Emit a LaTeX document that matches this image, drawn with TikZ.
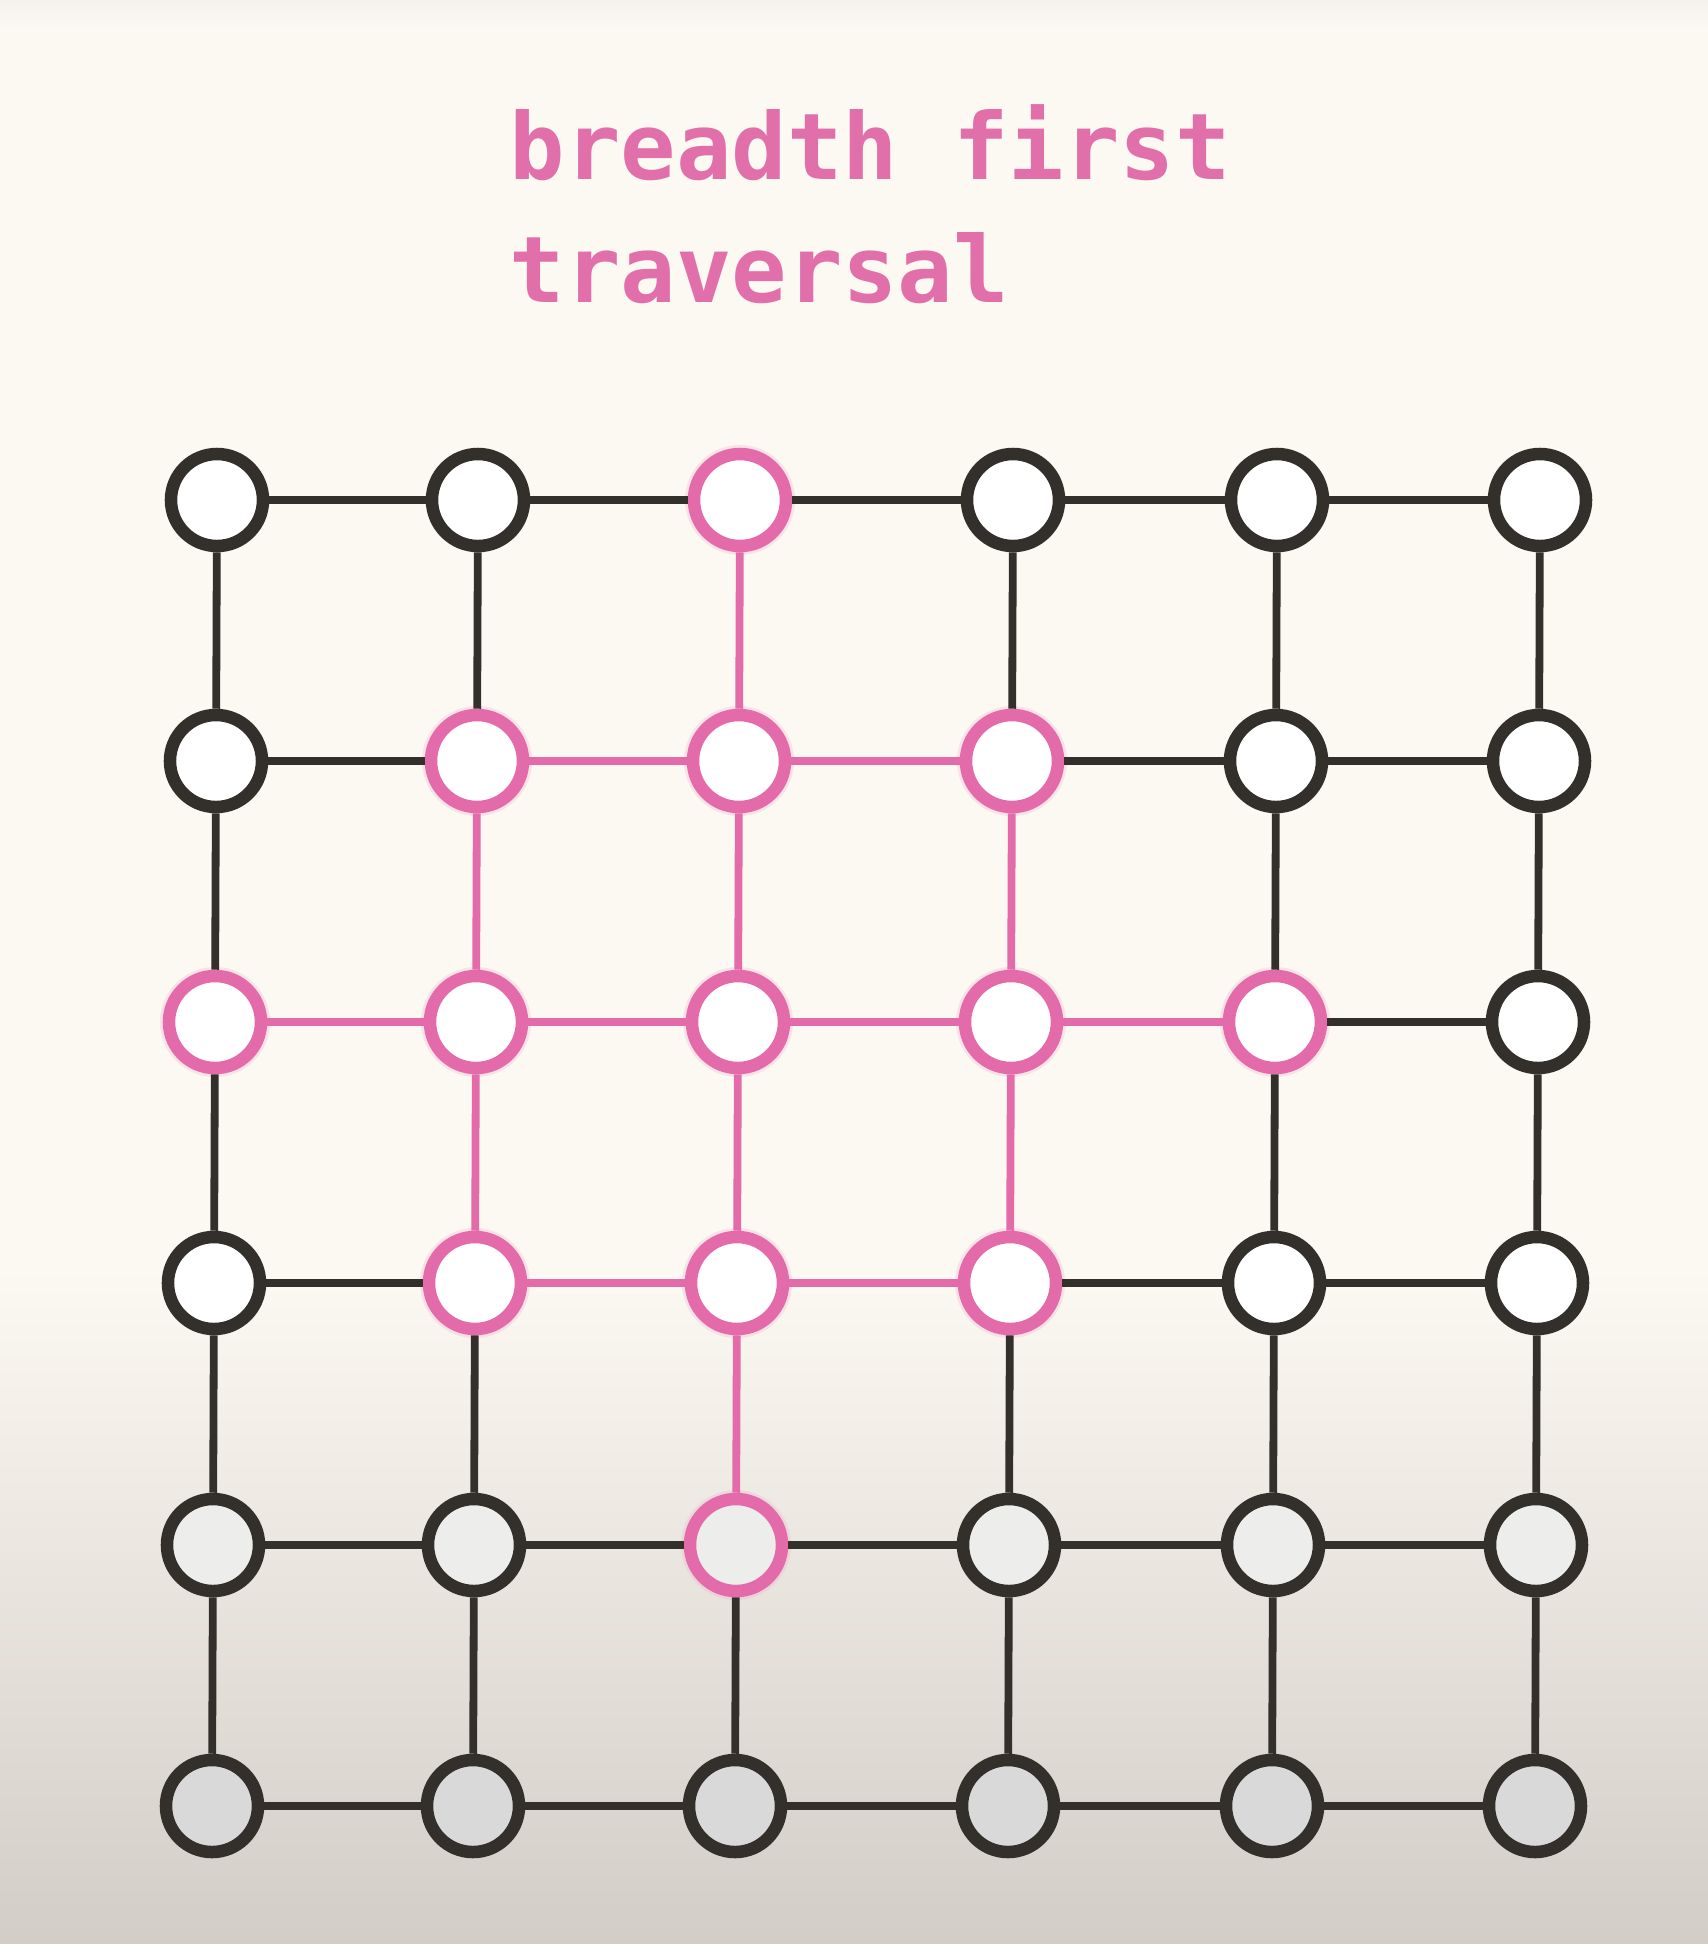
\documentclass[tikz,border=0pt]{standalone}
\usepackage{fontspec}
\newfontfamily\titlefont{DejaVu Sans Mono}
\definecolor{bgcream}{HTML}{FCF8F2}
\definecolor{bggray}{HTML}{D2CDC7}
\definecolor{topstrip}{HTML}{F5F2EE}
\definecolor{inkc}{HTML}{33302C}
\definecolor{pinkc}{HTML}{E36BAA}
\definecolor{titlec}{HTML}{E06FAA}
\definecolor{fillfour}{HTML}{EDEDEC}
\definecolor{fillfive}{HTML}{D9D9D9}
\begin{document}
\begin{tikzpicture}[x=0.01cm,y=-0.01cm,
  gnode/.style={circle,inner sep=0pt,minimum size=0.92cm,line width=0.125cm},
  blacknode/.style={draw=inkc},
  pinknode/.style={draw=pinkc,preaction={draw=pinkc!60,line width=0.18cm,opacity=0.25}},
  gedge/.style={line width=0.078cm},
  blackline/.style={draw=inkc},
  pinkline/.style={draw=pinkc},
  titlestyle/.style={inner sep=0pt,text=titlec,font=\titlefont\bfseries\fontsize{26.2}{30}\selectfont}]
\useasboundingbox (0,0) rectangle (1708,1944);
\fill[bgcream] (0,0) rectangle (1708,1944);
\shade[top color=bgcream,bottom color=bggray] (0,1270) rectangle (1708,1944);
\shade[top color=topstrip,bottom color=bgcream] (0,0) rectangle (1708,30);

\node[titlestyle,anchor=base west] (t1) at (509,179) {breadth first};
\node[titlestyle,anchor=base west] (t2) at (509,302) {traversal};

\def\colx{{217,478,740,1013,1277,1540}}
\def\rowy{{500,761,1022,1283,1545,1806}}
\foreach \r in {0,...,5}{
  \foreach \c in {0,...,5}{
    \pgfmathsetmacro\xx{\colx[\c]-\r}
    \pgfmathsetmacro\yy{\rowy[\r]}
    \pgfmathtruncatemacro\ispink{((\r==2) && (\c<=4)) || (((\r==1) || (\r==3)) && (\c>=1) && (\c<=3)) || ((\c==2) && (\r<=4))}
    \ifcase\r \def\fc{white}\or\def\fc{white}\or\def\fc{white}\or\def\fc{white}\or\def\fc{fillfour}\or\def\fc{fillfive}\fi
    \ifnum\ispink=1
      \node[gnode,pinknode,fill=\fc] (n-\r-\c) at (\xx,\yy) {};
    \else
      \node[gnode,blacknode,fill=\fc] (n-\r-\c) at (\xx,\yy) {};
    \fi
  }
}
% horizontal edges
\foreach \r in {0,...,5}{
  \foreach \c in {0,...,4}{
    \pgfmathtruncatemacro\cn{\c+1}
    \pgfmathtruncatemacro\ispink{((\r==2) && (\c<=3)) || (((\r==1) || (\r==3)) && ((\c==1) || (\c==2)))}
    \ifnum\ispink=1
      \draw[gedge,pinkline] (n-\r-\c) -- (n-\r-\cn);
    \else
      \draw[gedge,blackline] (n-\r-\c) -- (n-\r-\cn);
    \fi
  }
}
% vertical edges
\foreach \r in {0,...,4}{
  \foreach \c in {0,...,5}{
    \pgfmathtruncatemacro\rn{\r+1}
    \pgfmathtruncatemacro\ispink{((\c==2) && (\r<=3)) || (((\c==1) || (\c==3)) && ((\r==1) || (\r==2)))}
    \ifnum\ispink=1
      \draw[gedge,pinkline] (n-\r-\c) -- (n-\rn-\c);
    \else
      \draw[gedge,blackline] (n-\r-\c) -- (n-\rn-\c);
    \fi
  }
}
\end{tikzpicture}
\end{document}
